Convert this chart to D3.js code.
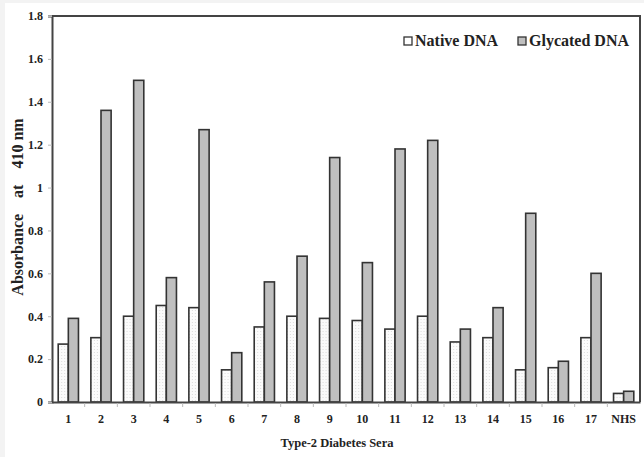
<!DOCTYPE html>
<html>
<head>
<meta charset="utf-8">
<script src="https://cdn.jsdelivr.net/npm/d3@7"></script>
<style>
  html, body { margin: 0; padding: 0; background: #f3f3f3; }
  svg { display: block; }
  svg text { font-family: "Liberation Serif", "Times New Roman", "DejaVu Serif", serif !important; font-weight: bold; fill: #222; }
</style>
</head>
<body>
<svg id="chart" width="644" height="457"></svg>
<script>
// data
var categories = ["1","2","3","4","5","6","7","8","9","10","11","12","13","14","15","16","17","NHS"];
var nativeDNA   = [0.27,0.30,0.40,0.45,0.44,0.15,0.35,0.40,0.39,0.38,0.34,0.40,0.28,0.30,0.15,0.16,0.30,0.04];
var glycatedDNA = [0.39,1.36,1.50,0.58,1.27,0.23,0.56,0.68,1.14,0.65,1.18,1.22,0.34,0.44,0.88,0.19,0.60,0.05];
var seriesNames = ["Native DNA", "Glycated DNA"];
var yTicks = [0,0.2,0.4,0.6,0.8,1,1.2,1.4,1.6,1.8];

var margin = {top: 16, right: 4, bottom: 55, left: 52};
var W = 644, H = 457;
var width = W - margin.left - margin.right;
var height = H - margin.top - margin.bottom;

var svg = d3.select("#chart");

// white picture area
svg.append("rect").attr("x", 5).attr("y", 3).attr("width", W - 5).attr("height", H - 3).attr("fill", "#fff");

var defs = svg.append("defs");
var pat = defs.append("pattern").attr("id", "dots").attr("width", 3).attr("height", 3).attr("patternUnits", "userSpaceOnUse");
pat.append("rect").attr("width", 3).attr("height", 3).attr("fill", "#fbfbfb");
pat.append("rect").attr("width", 1).attr("height", 1).attr("fill", "#dcdcdc");

var g = svg.append("g").attr("transform", "translate(" + margin.left + "," + margin.top + ")");

var x0 = d3.scaleBand().domain(categories).range([0, width]).paddingInner(0.38).paddingOuter(0.19);
var x1 = d3.scaleBand().domain(seriesNames).range([0, x0.bandwidth()]);
var y = d3.scaleLinear().domain([0, 1.8]).range([height, 0]);

var rows = categories.map(function(c, i) {
  return {cat: c, vals: [
    {s: seriesNames[0], v: nativeDNA[i]},
    {s: seriesNames[1], v: glycatedDNA[i]}
  ]};
});

var fills = {"Native DNA": "url(#dots)", "Glycated DNA": "#bfbfbf"};

g.append("g").selectAll("g")
  .data(rows)
  .join("g")
    .attr("transform", function(d) { return "translate(" + x0(d.cat) + ",0)"; })
  .selectAll("rect")
  .data(function(d) { return d.vals; })
  .join("rect")
    .attr("x", function(d) { return x1(d.s); })
    .attr("y", function(d) { return y(d.v); })
    .attr("width", x1.bandwidth())
    .attr("height", function(d) { return height - y(d.v); })
    .attr("fill", function(d) { return fills[d.s]; })
    .attr("stroke", "#333")
    .attr("stroke-width", 1.6);

// frame top and right
g.append("path")
  .attr("d", "M0,0H" + width + "V" + height)
  .attr("fill", "none").attr("stroke", "#444").attr("stroke-width", 2);

// y axis
var gY = g.append("g").call(d3.axisLeft(y).tickValues(yTicks).tickSize(4).tickFormat(function(d) { return d3.format("")(+d.toFixed(1)); }));
gY.attr("font-family", null);
gY.select(".domain").attr("stroke", "#444").attr("stroke-width", 2);
gY.selectAll(".tick line").attr("stroke", "#bbb");
gY.selectAll(".tick text").attr("x", -9).style("font-size", "12px");

// x axis with ticks at category boundaries
var gX = g.append("g").attr("transform", "translate(0," + height + ")")
  .call(d3.axisBottom(x0).tickSize(0).tickPadding(12));
gX.attr("font-family", null);
gX.select(".domain").attr("stroke", "#444").attr("stroke-width", 2);
gX.selectAll(".tick text").style("font-size", "12px");
gX.append("g").selectAll("line")
  .data(categories.slice(1))
  .join("line")
    .attr("x1", function(d) { return x0(d) - x0.step() * x0.paddingInner() / 2; })
    .attr("x2", function(d) { return x0(d) - x0.step() * x0.paddingInner() / 2; })
    .attr("y1", 1).attr("y2", 5)
    .attr("stroke", "#bbb");

// axis titles
svg.append("text")
  .attr("transform", "translate(23,207) rotate(-90)")
  .attr("text-anchor", "middle")
  .style("font-size", "16px")
  .attr("xml:space", "preserve")
  .text("Absorbance    at    410 nm");

svg.append("text")
  .attr("x", 337).attr("y", 447)
  .attr("text-anchor", "middle")
  .style("font-size", "12.5px")
  .text("Type-2 Diabetes Sera");

// legend
var legX = [404, 518];
var leg = svg.append("g").selectAll("g")
  .data(seriesNames)
  .join("g")
    .attr("transform", function(d, i) { return "translate(" + legX[i] + ",37)"; });
leg.append("rect")
  .attr("width", 8).attr("height", 8).attr("y", 0)
  .attr("fill", function(d) { return d === "Native DNA" ? "#fff" : "#bfbfbf"; })
  .attr("stroke", "#333").attr("stroke-width", 1.3);
leg.append("text")
  .attr("x", 11).attr("y", 9)
  .style("font-size", "16px")
  .text(function(d) { return d; });
</script>
</body>
</html>
